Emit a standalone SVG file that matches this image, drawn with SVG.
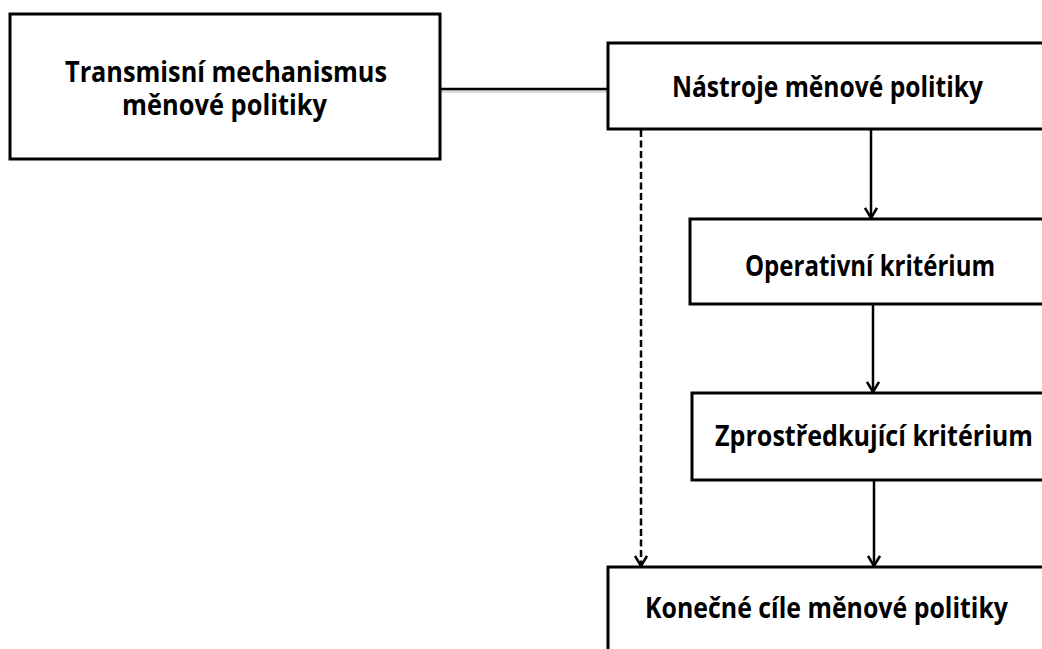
<svg xmlns="http://www.w3.org/2000/svg" width="1042" height="649" viewBox="0 0 1042 649">
  <style>
    .box { fill: #ffffff; stroke: #000000; stroke-width: 3; }
    .lbl { font-family: "Open Sans", "Liberation Sans", sans-serif; font-weight: bold; font-size: 28px; fill: #000000; text-anchor: middle; }
    .conn { fill: none; stroke: #000000; stroke-width: 2.5; }
    .dash { stroke-dasharray: 7 3.5; }
  </style>
  <defs>
    <marker id="arr" viewBox="0 0 12 14" refX="11" refY="7" markerWidth="12" markerHeight="14" markerUnits="userSpaceOnUse" orient="auto">
      <path d="M1,1 L11,7 L1,13" fill="none" stroke="#000000" stroke-width="2.5"/>
    </marker>
  </defs>
  <rect x="0" y="0" width="1042" height="649" fill="#ffffff"/>

  <g id="connectors">
    <line x1="440" y1="91.5" x2="608" y2="91.5" stroke="#d6d6d6" stroke-width="2.5"/>
    <line class="conn" x1="440" y1="89" x2="608" y2="89"/>
    <line class="conn dash" x1="641" y1="130" x2="641" y2="566" marker-end="url(#arr)"/>
    <line class="conn" x1="871" y1="130" x2="871" y2="218" marker-end="url(#arr)"/>
    <line class="conn" x1="873" y1="305" x2="873" y2="392" marker-end="url(#arr)"/>
    <line class="conn" x1="874" y1="481" x2="874" y2="566" marker-end="url(#arr)"/>
  </g>

  <g id="node-transmisni">
    <rect class="box" x="10" y="14" width="430" height="145"/>
    <text class="lbl" x="226" y="82" textLength="322" lengthAdjust="spacingAndGlyphs">Transmisní mechanismus</text>
    <text class="lbl" x="224.5" y="115" textLength="205" lengthAdjust="spacingAndGlyphs">měnové politiky</text>
  </g>

  <g id="node-nastroje">
    <rect class="box" x="608" y="43" width="450" height="86"/>
    <text class="lbl" x="827.5" y="97" textLength="311" lengthAdjust="spacingAndGlyphs">Nástroje měnové politiky</text>
  </g>

  <g id="node-operativni">
    <rect class="box" x="690" y="219" width="370" height="85"/>
    <text class="lbl" x="870" y="276" textLength="250" lengthAdjust="spacingAndGlyphs">Operativní kritérium</text>
  </g>

  <g id="node-zprostredkujici">
    <rect class="box" x="692" y="393" width="370" height="87"/>
    <text class="lbl" x="874" y="446" textLength="318" lengthAdjust="spacingAndGlyphs">Zprostředkující kritérium</text>
  </g>

  <g id="node-konecne">
    <rect class="box" x="608" y="567" width="450" height="100"/>
    <text class="lbl" x="826.5" y="618" textLength="363" lengthAdjust="spacingAndGlyphs">Konečné cíle měnové politiky</text>
  </g>
</svg>
